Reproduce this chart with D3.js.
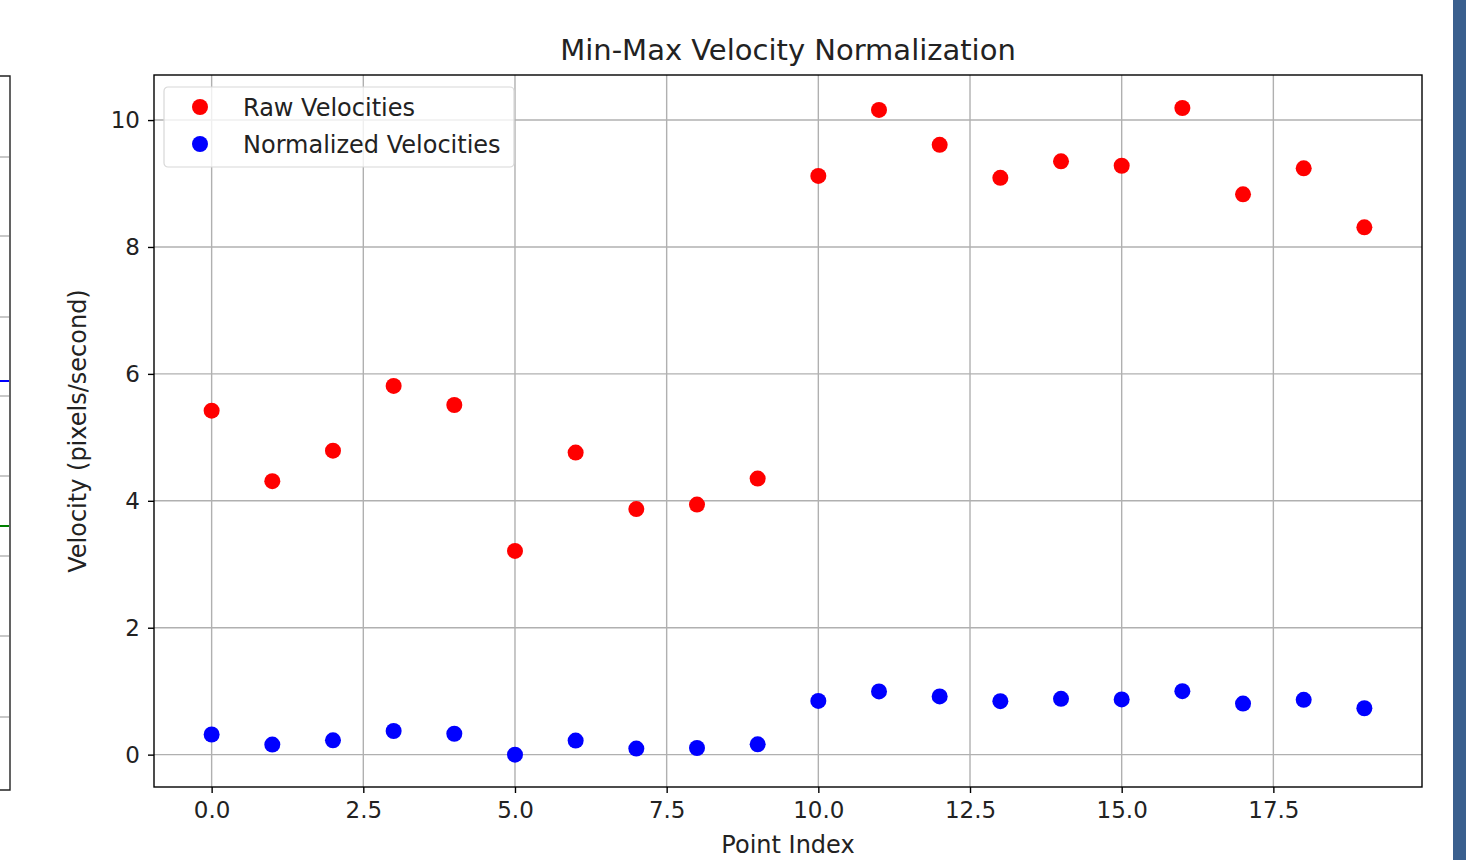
<!DOCTYPE html>
<html>
<head>
<meta charset="utf-8">
<script src="https://cdn.jsdelivr.net/npm/d3@7"></script>
<style>
  html, body { margin: 0; padding: 0; background: #fff; }
  svg { display: block; font-family: "DejaVu Sans", sans-serif; }
  .grid line { stroke: #b0b0b0; stroke-width: 1.4; }
  .axis path, .axis line { stroke: #000; stroke-width: 1.4; }
  .axis text { fill: #222; font-size: 23px; font-family: "DejaVu Sans", sans-serif; }
</style>
</head>
<body>
<svg width="1466" height="860"></svg>
<script>
var pointIndex = [0, 1, 2, 3, 4, 5, 6, 7, 8, 9, 10, 11, 12, 13, 14, 15, 16, 17, 18, 19];
var rawVelocities = [5.42, 4.31, 4.79, 5.81, 5.51, 3.21, 4.76, 3.87, 3.94, 4.35,
                     9.12, 10.16, 9.61, 9.09, 9.35, 9.28, 10.19, 8.83, 9.24, 8.31];
var normVelocities = [0.317, 0.158, 0.226, 0.372, 0.329, 0.0, 0.222, 0.095, 0.105, 0.163,
                      0.847, 0.996, 0.917, 0.842, 0.880, 0.870, 1.0, 0.805, 0.864, 0.731];
var xTicks = [0, 2.5, 5, 7.5, 10, 12.5, 15, 17.5];
var yTicks = [0, 2, 4, 6, 8, 10];
var seriesNames = ["Raw Velocities", "Normalized Velocities"];
var seriesColors = ["#ff0000", "#0000ff"];

// bits of the neighbouring figure that show in the screenshot
var leftGridY = [157, 236, 317, 396, 476, 556, 636, 717];

var svg = d3.select("svg"),
    margin = {top: 75, right: 44, bottom: 73, left: 154},
    width = +svg.attr("width") - margin.left - margin.right,
    height = +svg.attr("height") - margin.top - margin.bottom;

svg.append("rect").attr("width", 1466).attr("height", 860).attr("fill", "#fff");

// left panel edge
var lp = svg.append("g");
lp.selectAll("line.lg")
  .data(leftGridY)
  .enter().append("line")
    .attr("x1", 0).attr("x2", 9)
    .attr("y1", function(d) { return d; }).attr("y2", function(d) { return d; })
    .attr("stroke", "#b0b0b0").attr("stroke-width", 1.4);
lp.append("line").attr("x1", 0).attr("x2", 9).attr("y1", 381).attr("y2", 381)
    .attr("stroke", "#0000ff").attr("stroke-width", 2);
lp.append("line").attr("x1", 0).attr("x2", 9).attr("y1", 526).attr("y2", 526)
    .attr("stroke", "#008000").attr("stroke-width", 2);
lp.append("path").attr("d", "M0,76H10V790H0")
    .attr("fill", "none").attr("stroke", "#222").attr("stroke-width", 1.4);

// blue strip at right edge
svg.append("rect").attr("x", 1453).attr("y", 0).attr("width", 13).attr("height", 860)
    .attr("fill", "#3a5f8e");

var g = svg.append("g").attr("transform", "translate(" + margin.left + "," + margin.top + ")");

var x = d3.scaleLinear()
    .domain([-0.95, 19.95])
    .range([0, width]);

var y = d3.scaleLinear()
    .domain([-0.51, 10.71])
    .range([height, 0]);

g.append("g")
    .attr("class", "grid")
  .selectAll("line")
  .data(xTicks)
  .enter().append("line")
    .attr("x1", function(d) { return x(d); })
    .attr("x2", function(d) { return x(d); })
    .attr("y1", 0).attr("y2", height);

g.append("g")
    .attr("class", "grid")
  .selectAll("line")
  .data(yTicks)
  .enter().append("line")
    .attr("y1", function(d) { return y(d); })
    .attr("y2", function(d) { return y(d); })
    .attr("x1", 0).attr("x2", width);

g.append("g")
    .attr("class", "axis axis--x")
    .attr("transform", "translate(0," + height + ")")
    .call(d3.axisBottom(x).tickValues(xTicks).tickFormat(d3.format(".1f")).tickSize(6).tickPadding(9).tickSizeOuter(0));

g.append("g")
    .attr("class", "axis axis--y")
    .call(d3.axisLeft(y).tickValues(yTicks).tickFormat(d3.format("d")).tickSize(6).tickPadding(8).tickSizeOuter(0));

g.selectAll(".axis path").remove();

g.append("rect")
    .attr("width", width).attr("height", height)
    .attr("fill", "none").attr("stroke", "#000").attr("stroke-width", 1.4);

g.selectAll(".raw")
  .data(pointIndex)
  .enter().append("circle")
    .attr("class", "raw")
    .attr("cx", function(d) { return x(d); })
    .attr("cy", function(d, i) { return y(rawVelocities[i]); })
    .attr("r", 8)
    .attr("fill", seriesColors[0]);

g.selectAll(".norm")
  .data(pointIndex)
  .enter().append("circle")
    .attr("class", "norm")
    .attr("cx", function(d) { return x(d); })
    .attr("cy", function(d, i) { return y(normVelocities[i]); })
    .attr("r", 8)
    .attr("fill", seriesColors[1]);

// legend
var legend = g.append("g").attr("transform", "translate(10,12)");
legend.append("rect")
    .attr("width", 350).attr("height", 80).attr("rx", 4)
    .attr("fill", "#fff").attr("fill-opacity", 0.8)
    .attr("stroke", "#d8d8d8").attr("stroke-width", 1.2);
var item = legend.selectAll(".item")
  .data(seriesNames)
  .enter().append("g")
    .attr("class", "item")
    .attr("transform", function(d, i) { return "translate(0," + (20 + i * 37) + ")"; });
item.append("circle")
    .attr("cx", 36).attr("cy", 0).attr("r", 8)
    .attr("fill", function(d, i) { return seriesColors[i]; });
item.append("text")
    .attr("x", 79).attr("y", 0).attr("dy", "0.36em")
    .style("font-size", "24px").style("fill", "#222")
    .text(function(d) { return d; });

svg.append("text")
    .attr("text-anchor", "middle")
    .attr("x", margin.left + width / 2)
    .attr("y", 60)
    .style("font-size", "29px").style("fill", "#222")
    .text("Min-Max Velocity Normalization");

svg.append("text")
    .attr("text-anchor", "middle")
    .attr("x", margin.left + width / 2)
    .attr("y", 853)
    .style("font-size", "24px").style("fill", "#222")
    .text("Point Index");

svg.append("text")
    .attr("text-anchor", "middle")
    .attr("transform", "translate(86," + (margin.top + height / 2) + ") rotate(-90)")
    .style("font-size", "24px").style("fill", "#222")
    .text("Velocity (pixels/second)");
</script>
</body>
</html>
